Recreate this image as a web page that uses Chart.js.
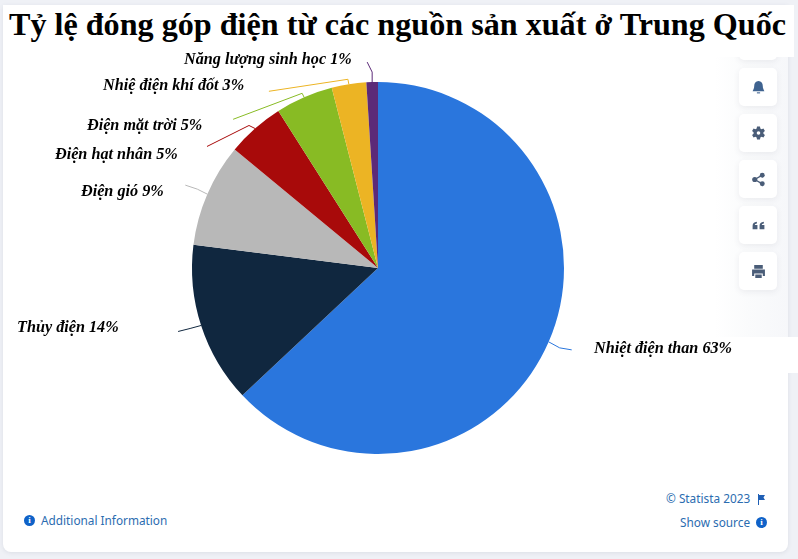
<!DOCTYPE html>
<html lang="vi">
<head>
<meta charset="utf-8">
<title>Tỷ lệ đóng góp điện</title>
<script src="https://cdn.jsdelivr.net/npm/chart.js@4/dist/chart.umd.min.js"></script>
<style>
html,body{margin:0;padding:0;width:798px;height:559px;overflow:hidden;background:#eff1f6;}
#card{position:absolute;left:3px;top:5px;width:785px;height:547px;background:#fff;border-radius:0 0 8px 8px;box-shadow:0 1px 4px rgba(60,70,90,.10);}
#patch{position:absolute;left:780px;top:337px;width:18px;height:36px;background:#fff;}
#rail{position:absolute;left:715px;top:56px;width:73px;height:281px;background:linear-gradient(90deg,#fff 0,#fafbfc 45%,#f6f7fa 100%);}
canvas{position:absolute;left:0;top:0;z-index:3;}
#titlebox{position:absolute;left:3px;top:5px;width:791px;height:52px;background:#fff;}
#title{position:absolute;left:0;width:795px;top:4px;text-align:center;margin:0;font:bold 32.15px/40px "Liberation Serif",serif;color:#000;white-space:nowrap;z-index:2;}
.btn{position:absolute;left:739px;width:38px;height:38px;background:#fff;border-radius:5px;box-shadow:0 2px 6px rgba(60,70,90,.08);display:flex;align-items:center;justify-content:center;}
.btn svg{width:15px;height:15px;fill:#4a5d78;}
.ft{position:absolute;font:11.8px/16px "Noto Sans",sans-serif;color:#2b6cb0;white-space:nowrap;}
.ic{position:absolute;width:11px;height:11px;border-radius:50%;background:#0f62c8;color:#fff;font:bold 9px/11px "Liberation Serif",serif;text-align:center;}
</style>
</head>
<body>
<div id="card"></div>
<div id="rail"></div>
<div id="patch"></div>
<canvas id="c" width="798" height="559"></canvas>
<div class="btn" style="top:22px"></div>
<div id="titlebox"></div>
<h1 id="title">Tỷ lệ đóng góp điện từ các nguồn sản xuất ở Trung Quốc</h1>

<div class="btn" style="top:68px"><svg viewBox="0 0 14 14"><path d="M7 1c2.600 0 4 2 4 4.500 0 2.500 1 3.500 1.500 5h-11C2 9 3 8 3 5.500 3 3 4.400 1 7 1z" fill="#3f6390"/><rect x="5.500" y="11.500" width="3" height="1" fill="#3f6390"/></svg></div>
<div class="btn" style="top:114px"><svg viewBox="0 0 14 14"><path fill-rule="evenodd" d="M5.600 .5h2.800l.3 1.800 1.200.7 1.700-.7 1.400 2.400-1.400 1.100v1.400l1.400 1.100-1.400 2.400-1.700-.7-1.200.7-.3 1.800H5.600l-.3-1.800-1.200-.7-1.700.7L1 8.300l1.400-1.100V5.800L1 4.700l1.400-2.400 1.700.7 1.200-.7zM7 4.800a1.700 1.700 0 1 0 0 3.400 1.700 1.700 0 0 0 0-3.400z"/></svg></div>
<div class="btn" style="top:160px"><svg viewBox="0 0 14 14"><circle cx="3.500" cy="7" r="2.400"/><circle cx="10.500" cy="3" r="2.300"/><circle cx="10.500" cy="11" r="2.300"/><path d="M3.500 7l7-4M3.500 7l7 4" stroke="#4a5d78" stroke-width="1.300"/></svg></div>
<div class="btn" style="top:206px"><svg viewBox="0 0 14 14"><path d="M1.500 7.200C1.500 5 2.700 3.700 5.500 3.500v1.700C4.300 5.300 3.700 5.700 3.600 6.500h2.400v4H1.500zM8 7.200C8 5 9.200 3.700 12 3.500v1.700c-1.200.1-1.800.5-1.900 1.300h2.400v4H8z"/></svg></div>
<div class="btn" style="top:252px"><svg viewBox="0 0 14 14"><path fill-rule="evenodd" d="M3 1h8v3.500H3zM1 5.200h12v6h-2V8.800H3v2.400H1zM4 9.800h6v3.200H4z"/></svg></div>

<span class="ic" style="left:24px;top:515px">i</span>
<span class="ft" id="addl" style="left:41px;top:512px">Additional Information</span>
<span class="ft" id="copy" style="left:666px;top:490px">© Statista 2023</span>
<svg style="position:absolute;left:757px;top:494px" width="9" height="11" viewBox="0 0 9 11"><path d="M1 0h1v11H1zM2 1h6L6.500 3.500 8 6H2z" fill="#1f5fb5"/></svg>
<span class="ft" id="src" style="left:680px;top:514px">Show source</span>
<span class="ic" style="left:756px;top:517px">i</span>

<script>
const categories = ["Nhiệt điện than","Thủy điện","Điện gió","Điện hạt nhân","Điện mặt trời","Nhiệ điện khí đốt","Năng lượng sinh học"];
const shares = [63,14,9,5,5,3,1];
const sliceColors = ["#2a76dd","#10273f","#b8b8b8","#a80a0a","#88bb24","#ecb424","#5c2a78"];
// label placement (text x, baseline y, in page pixels)
const labelX = [594,17,81,55,87,103,184];
const labelY = [353,332,196,159,130,90,64];
// leader routing: offsets from each slice's outer midpoint
const leaderBend = [[11,6],[-11,3],[-10,-5],[-6,-3],[-2,-4],[-1,-5],[0,-10]];
const leaderEnd  = [[23,8],[-23,6],[-22,-9],[-48,18],[-71,22],[-80,7],[-5,-20]];

const labelsPlugin = {
  id:"sliceLabels",
  afterDatasetsDraw(chart){
    const ctx = chart.ctx, arcs = chart.getDatasetMeta(0).data;
    ctx.save();
    arcs.forEach((a,i)=>{
      const p = a.getProps(["x","y","startAngle","endAngle","outerRadius"],true);
      const m = (p.startAngle+p.endAngle)/2;
      const sx = p.x+Math.cos(m)*p.outerRadius, sy = p.y+Math.sin(m)*p.outerRadius;
      ctx.beginPath();
      ctx.moveTo(sx,sy);
      ctx.lineTo(sx+leaderBend[i][0],sy+leaderBend[i][1]);
      ctx.lineTo(sx+leaderEnd[i][0],sy+leaderEnd[i][1]);
      ctx.strokeStyle = sliceColors[i];
      ctx.lineWidth = 1;
      ctx.lineJoin = "round";
      ctx.stroke();
      ctx.font = 'italic bold 16.2px "Liberation Serif",serif';
      ctx.fillStyle = "#000";
      ctx.textAlign = "left";
      ctx.textBaseline = "alphabetic";
      ctx.fillText(categories[i]+" "+shares[i]+"%",labelX[i],labelY[i]);
    });
    ctx.restore();
  }
};

new Chart(document.getElementById("c"),{
  type:"pie",
  data:{labels:categories,datasets:[{data:shares,backgroundColor:sliceColors,borderWidth:0}]},
  options:{
    responsive:false,animation:false,
    layout:{padding:{left:192,right:234,top:82,bottom:105}},
    plugins:{legend:{display:false},tooltip:{enabled:false},title:{display:false}}
  },
  plugins:[labelsPlugin]
});
</script>
</body>
</html>
